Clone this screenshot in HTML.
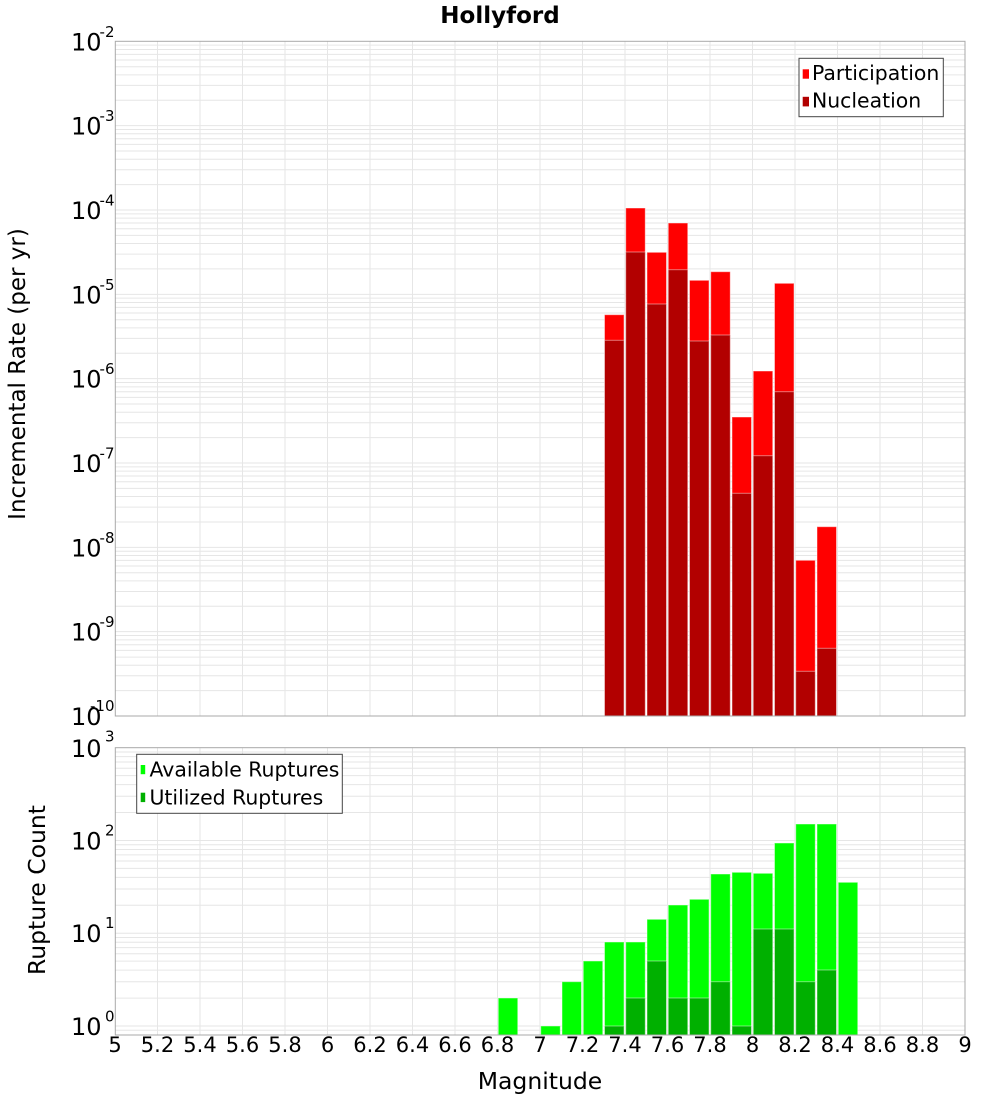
<!DOCTYPE html>
<html><head><meta charset="utf-8"><style>
html,body{margin:0;padding:0;background:#fff;}
svg{display:block;font-family:"DejaVu Sans","Liberation Sans",sans-serif;}
</style></head><body>
<svg width="1000" height="1100" viewBox="0 0 1000 1100" xmlns="http://www.w3.org/2000/svg">
<rect x="0" y="0" width="1000" height="1100" fill="#fff"/>
<text x="500" y="23" text-anchor="middle" font-size="23" font-weight="bold" fill="#000">Hollyford</text>

<!-- TOP PLOT -->
<rect x="115.3" y="41.3" width="849.7" height="674.7" fill="#fff"/>
<g stroke="#e6e6e6" stroke-width="1" fill="none">
<path d="M115 45.16H965M115 49.47H965M115 54.36H965M115 60.01H965M115 66.69H965M115 74.86H965M115 85.40H965M115 100.25H965
M115 125.64H965M115 129.50H965M115 133.81H965M115 138.70H965M115 144.35H965M115 151.03H965M115 159.20H965M115 169.74H965M115 184.59H965
M115 209.98H965M115 213.84H965M115 218.15H965M115 223.04H965M115 228.69H965M115 235.37H965M115 243.54H965M115 254.08H965M115 268.93H965
M115 294.32H965M115 298.18H965M115 302.49H965M115 307.38H965M115 313.03H965M115 319.71H965M115 327.88H965M115 338.42H965M115 353.27H965
M115 378.66H965M115 382.52H965M115 386.83H965M115 391.72H965M115 397.37H965M115 404.05H965M115 412.22H965M115 422.76H965M115 437.61H965
M115 463.0H965M115 466.86H965M115 471.17H965M115 476.06H965M115 481.71H965M115 488.39H965M115 496.56H965M115 507.10H965M115 521.95H965
M115 547.34H965M115 551.20H965M115 555.51H965M115 560.40H965M115 566.05H965M115 572.73H965M115 580.90H965M115 591.44H965M115 606.29H965
M115 631.68H965M115 635.54H965M115 639.85H965M115 644.74H965M115 650.39H965M115 657.07H965M115 665.24H965M115 675.78H965M115 690.63H965"/>
<path d="M157.5 41V716M200 41V716M242.5 41V716M285 41V716M327.5 41V716M370 41V716M412.5 41V716M455 41V716M497.5 41V716M540 41V716M582.5 41V716M625 41V716M667.5 41V716M710 41V716M752.5 41V716M795 41V716M837.5 41V716M880 41V716M922.5 41V716"/>
</g>
<g stroke="rgba(255,255,255,0.45)" stroke-width="1">
<g fill="#ff0000">
<rect x="604.5" y="314.7" width="19.5" height="401.3"/>
<rect x="625.75" y="208" width="19.5" height="508"/>
<rect x="647" y="252.3" width="19.5" height="463.7"/>
<rect x="668.25" y="223" width="19.5" height="493"/>
<rect x="689.5" y="280.3" width="19.5" height="435.7"/>
<rect x="710.75" y="271.7" width="19.5" height="444.3"/>
<rect x="732" y="417" width="19.5" height="299"/>
<rect x="753.25" y="371" width="19.5" height="345"/>
<rect x="774.5" y="283.3" width="19.5" height="432.7"/>
<rect x="795.75" y="560.3" width="19.5" height="155.7"/>
<rect x="817" y="526.7" width="19.5" height="189.3"/>
</g>
<g fill="#b20000">
<rect x="604.5" y="340.3" width="19.5" height="375.7"/>
<rect x="625.75" y="252" width="19.5" height="464"/>
<rect x="647" y="304" width="19.5" height="412"/>
<rect x="668.25" y="269.7" width="19.5" height="446.3"/>
<rect x="689.5" y="341" width="19.5" height="375"/>
<rect x="710.75" y="335" width="19.5" height="381"/>
<rect x="732" y="493.3" width="19.5" height="222.7"/>
<rect x="753.25" y="455.7" width="19.5" height="260.3"/>
<rect x="774.5" y="391.7" width="19.5" height="324.3"/>
<rect x="795.75" y="671.3" width="19.5" height="44.7"/>
<rect x="817" y="648.3" width="19.5" height="67.7"/>
</g>
</g>
<rect x="115.3" y="41.3" width="849.7" height="674.7" fill="none" stroke="#a8a8a8" stroke-width="1"/>

<!-- top legend -->
<rect x="799" y="58.3" width="144.3" height="58.4" fill="#fff" stroke="#444" stroke-width="1"/>
<rect x="802.7" y="69.3" width="6.3" height="9.4" fill="#ff0000"/>
<rect x="802.7" y="96.8" width="6.3" height="9.6" fill="#b20000"/>
<text x="812" y="80" font-size="20.4" fill="#000">Participation</text>
<text x="812" y="107.7" font-size="20.4" fill="#000">Nucleation</text>

<!-- top y ticks -->
<g font-size="24" fill="#000" text-anchor="end">
<text x="101.5" y="50.3">10</text>
<text x="101.5" y="134.6">10</text>
<text x="101.5" y="219">10</text>
<text x="101.5" y="303.3">10</text>
<text x="101.5" y="387.7">10</text>
<text x="101.5" y="472">10</text>
<text x="101.5" y="556.3">10</text>
<text x="101.5" y="640.7">10</text>
<text x="101.5" y="725">10</text>
</g>
<g font-size="15" fill="#000" text-anchor="end">
<text x="114.5" y="37">-2</text>
<text x="114.5" y="121">-3</text>
<text x="114.5" y="205.5">-4</text>
<text x="114.5" y="289.8">-5</text>
<text x="114.5" y="374.2">-6</text>
<text x="114.5" y="458.5">-7</text>
<text x="114.5" y="542.8">-8</text>
<text x="114.5" y="627.2">-9</text>
<text x="114.5" y="711">-10</text>
</g>
<text transform="translate(25,374) rotate(-90)" text-anchor="middle" font-size="23" fill="#000">Incremental Rate (per yr)</text>

<!-- BOTTOM PLOT -->
<rect x="115.3" y="747.7" width="849.7" height="287.3" fill="#fff"/>
<g stroke="#e6e6e6" stroke-width="1" fill="none">
<path d="M115 751.94H965M115 756.68H965M115 762.06H965M115 768.27H965M115 775.62H965M115 784.61H965M115 796.20H965M115 812.53H965
M115 840.46H965M115 844.71H965M115 849.45H965M115 854.83H965M115 861.04H965M115 868.39H965M115 877.38H965M115 888.97H965M115 905.30H965
M115 933.23H965M115 937.48H965M115 942.22H965M115 947.60H965M115 953.81H965M115 961.16H965M115 970.15H965M115 981.74H965M115 998.07H965
M115 1026H965M115 1030.25H965"/>
<path d="M157.5 748V1035M200 748V1035M242.5 748V1035M285 748V1035M327.5 748V1035M370 748V1035M412.5 748V1035M455 748V1035M497.5 748V1035M540 748V1035M582.5 748V1035M625 748V1035M667.5 748V1035M710 748V1035M752.5 748V1035M795 748V1035M837.5 748V1035M880 748V1035M922.5 748V1035"/>
</g>
<g stroke="rgba(255,255,255,0.45)" stroke-width="1">
<g fill="#00ff00">
<rect x="498.25" y="998" width="19.5" height="37"/>
<rect x="540.75" y="1026" width="19.5" height="9"/>
<rect x="562" y="981.7" width="19.5" height="53.3"/>
<rect x="583.25" y="961" width="19.5" height="74"/>
<rect x="604.5" y="942" width="19.5" height="93"/>
<rect x="625.75" y="942" width="19.5" height="93"/>
<rect x="647" y="919.3" width="19.5" height="115.7"/>
<rect x="668.25" y="905" width="19.5" height="130"/>
<rect x="689.5" y="899.3" width="19.5" height="135.7"/>
<rect x="710.75" y="874" width="19.5" height="161"/>
<rect x="732" y="872.3" width="19.5" height="162.7"/>
<rect x="753.25" y="873.3" width="19.5" height="161.7"/>
<rect x="774.5" y="843" width="19.5" height="192"/>
<rect x="795.75" y="824" width="19.5" height="211"/>
<rect x="817" y="824" width="19.5" height="211"/>
<rect x="838.25" y="882.3" width="19.5" height="152.7"/>
</g>
<g fill="#00b000">
<rect x="604.5" y="1026" width="19.5" height="9"/>
<rect x="625.75" y="998" width="19.5" height="37"/>
<rect x="647" y="961" width="19.5" height="74"/>
<rect x="668.25" y="998" width="19.5" height="37"/>
<rect x="689.5" y="998" width="19.5" height="37"/>
<rect x="710.75" y="981.7" width="19.5" height="53.3"/>
<rect x="732" y="1026" width="19.5" height="9"/>
<rect x="753.25" y="929" width="19.5" height="106"/>
<rect x="774.5" y="929" width="19.5" height="106"/>
<rect x="795.75" y="981.7" width="19.5" height="53.3"/>
<rect x="817" y="970" width="19.5" height="65"/>
</g>
</g>
<rect x="115.3" y="747.7" width="849.7" height="287.3" fill="none" stroke="#a8a8a8" stroke-width="1"/>

<!-- bottom legend -->
<rect x="136.7" y="754.3" width="205.6" height="59" fill="#fff" stroke="#444" stroke-width="1"/>
<rect x="140.7" y="765" width="4.5" height="9.2" fill="#00ff00"/>
<rect x="140.7" y="792.7" width="4.5" height="9.4" fill="#00b000"/>
<text x="149.5" y="776.7" font-size="20.4" fill="#000">Available Ruptures</text>
<text x="149.5" y="804.3" font-size="20.4" fill="#000">Utilized Ruptures</text>

<!-- bottom y ticks -->
<g font-size="24" fill="#000" text-anchor="end">
<text x="101.5" y="757">10</text>
<text x="101.5" y="942.2">10</text>
<text x="101.5" y="849.5">10</text>
<text x="101.5" y="1035">10</text>
</g>
<g font-size="15" fill="#000" text-anchor="end">
<text x="114.5" y="741.7">3</text>
<text x="114.5" y="835.5">2</text>
<text x="114.5" y="928.2">1</text>
<text x="114.5" y="1021.7">0</text>
</g>
<text transform="translate(45,890) rotate(-90)" text-anchor="middle" font-size="23.5" fill="#000">Rupture Count</text>

<!-- x ticks -->
<g font-size="21" fill="#000" text-anchor="middle">
<text x="115" y="1052">5</text>
<text x="157.5" y="1052">5.2</text>
<text x="200" y="1052">5.4</text>
<text x="242.5" y="1052">5.6</text>
<text x="285" y="1052">5.8</text>
<text x="327.5" y="1052">6</text>
<text x="370" y="1052">6.2</text>
<text x="412.5" y="1052">6.4</text>
<text x="455" y="1052">6.6</text>
<text x="497.5" y="1052">6.8</text>
<text x="540" y="1052">7</text>
<text x="582.5" y="1052">7.2</text>
<text x="625" y="1052">7.4</text>
<text x="667.5" y="1052">7.6</text>
<text x="710" y="1052">7.8</text>
<text x="752.5" y="1052">8</text>
<text x="795" y="1052">8.2</text>
<text x="837.5" y="1052">8.4</text>
<text x="880" y="1052">8.6</text>
<text x="922.5" y="1052">8.8</text>
<text x="965" y="1052">9</text>
</g>
<text x="540" y="1089" text-anchor="middle" font-size="23.5" fill="#000">Magnitude</text>
</svg>
</body></html>
